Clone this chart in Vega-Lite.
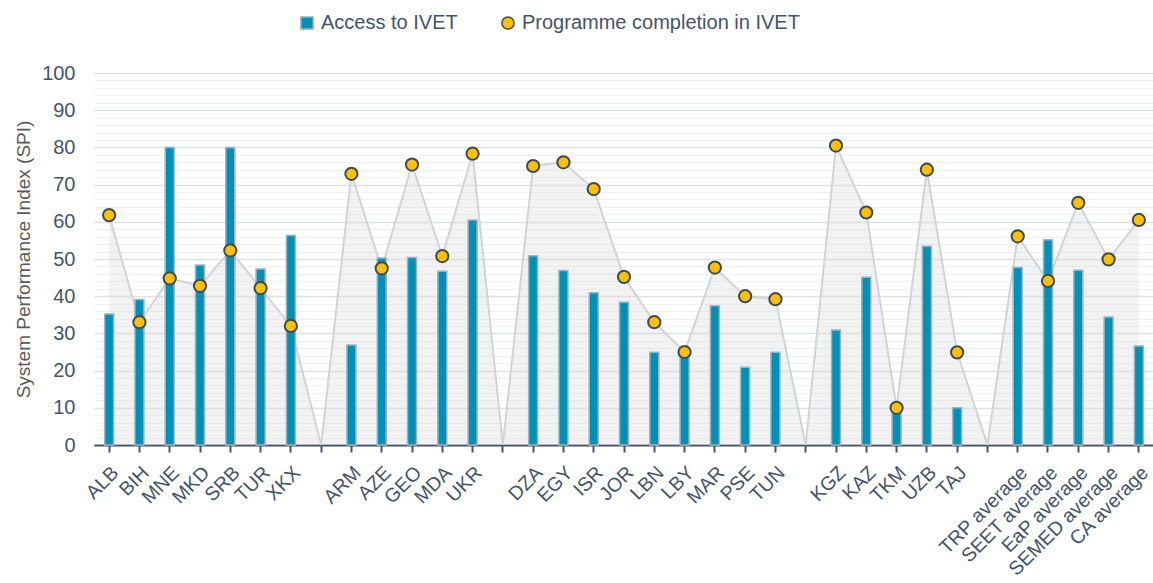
{
  "$schema": "https://vega.github.io/schema/vega-lite/v6.json",
  "width": 1060,
  "height": 372,
  "padding": {"left": 14, "top": 13, "right": 0, "bottom": 0},
  "background": "white",
  "config": {"font": "Liberation Sans", "view": {"stroke": null}},
  "data": {"values": [
    {"country": "ALB", "access": 35.2, "completion": 61.8},
    {"country": "BIH", "access": 39.1, "completion": 33.0},
    {"country": "MNE", "access": 80.0, "completion": 44.8},
    {"country": "MKD", "access": 48.4, "completion": 42.8},
    {"country": "SRB", "access": 80.0, "completion": 52.3},
    {"country": "TUR", "access": 47.3, "completion": 42.2},
    {"country": "XKX", "access": 56.3, "completion": 32.0},
    {"country": "_1", "access": null, "completion": 0},
    {"country": "ARM", "access": 26.9, "completion": 72.9},
    {"country": "AZE", "access": 50.3, "completion": 47.5},
    {"country": "GEO", "access": 50.4, "completion": 75.4},
    {"country": "MDA", "access": 46.7, "completion": 50.8},
    {"country": "UKR", "access": 60.5, "completion": 78.3},
    {"country": "_2", "access": null, "completion": 0},
    {"country": "DZA", "access": 50.9, "completion": 75.0},
    {"country": "EGY", "access": 46.9, "completion": 76.0},
    {"country": "ISR", "access": 40.9, "completion": 68.8},
    {"country": "JOR", "access": 38.4, "completion": 45.2},
    {"country": "LBN", "access": 24.9, "completion": 33.0},
    {"country": "LBY", "access": 24.5, "completion": 25.0},
    {"country": "MAR", "access": 37.4, "completion": 47.7},
    {"country": "PSE", "access": 20.9, "completion": 40.0},
    {"country": "TUN", "access": 24.9, "completion": 39.2},
    {"country": "_3", "access": null, "completion": 0},
    {"country": "KGZ", "access": 30.9, "completion": 80.5},
    {"country": "KAZ", "access": 45.1, "completion": 62.5},
    {"country": "TKM", "access": 10.0, "completion": 10.0},
    {"country": "UZB", "access": 53.4, "completion": 74.0},
    {"country": "TAJ", "access": 10.0, "completion": 24.9},
    {"country": "_4", "access": null, "completion": 0},
    {"country": "TRP average", "access": 47.7, "completion": 56.1},
    {"country": "SEET average", "access": 55.2, "completion": 44.1},
    {"country": "EaP average", "access": 47.0, "completion": 65.1},
    {"country": "SEMED average", "access": 34.4, "completion": 49.9},
    {"country": "CA average", "access": 26.6, "completion": 60.5}
  ]},
  "encoding": {
    "x": {
      "field": "country",
      "type": "nominal",
      "scale": {
        "domain": ["ALB","BIH","MNE","MKD","SRB","TUR","XKX","_1","ARM","AZE","GEO","MDA","UKR","_2","DZA","EGY","ISR","JOR","LBN","LBY","MAR","PSE","TUN","_3","KGZ","KAZ","TKM","UZB","TAJ","_4","TRP average","SEET average","EaP average","SEMED average","CA average"],
        "paddingInner": 0,
        "paddingOuter": 0
      },
      "axis": {
        "title": null,
        "labelAngle": -45,
        "labelFontSize": 19.5,
        "labelColor": "#44546a",
        "labelExpr": "indexof(datum.value,'_')==0 ? '' : datum.value",
        "tickSize": 7,
        "tickWidth": 2,
        "tickColor": "#44546a",
        "domainColor": "#44546a",
        "domainWidth": 2,
        "labelPadding": 11,
        "grid": false
      }
    }
  },
  "layer": [
    {
      "mark": {"type": "area", "color": "#d9d9d9", "opacity": 0.35, "line": {"color": "#d0d4d8", "strokeWidth": 2, "opacity": 1}},
      "encoding": {
        "y": {
          "field": "completion",
          "type": "quantitative",
          "scale": {"domain": [0, 100], "nice": false},
          "axis": {
            "title": "System Performance Index (SPI)",
            "values": [0,2,4,6,8,10,12,14,16,18,20,22,24,26,28,30,32,34,36,38,40,42,44,46,48,50,52,54,56,58,60,62,64,66,68,70,72,74,76,78,80,82,84,86,88,90,92,94,96,98,100],
            "tickCount": 60,
            "labelExpr": "datum.value % 10 == 0 ? datum.label : ''",
            "grid": true,
            "gridColor": {"condition": {"test": "datum.value % 10 == 0", "value": "#dde1e5"}, "value": "#eef0f2"},
            "gridWidth": {"condition": {"test": "datum.value % 10 == 0", "value": 1.5}, "value": 1},
            "domain": false,
            "ticks": false,
            "labelFontSize": 20,
            "labelColor": "#44546a",
            "labelPadding": 19,
            "titleFontSize": 19,
            "titleColor": "#595959",
            "titleFontWeight": "normal",
            "titlePadding": 8
          }
        }
      }
    },
    {
      "transform": [{"filter": "isValid(datum.access)"}],
      "mark": {"type": "bar", "size": 9, "stroke": "#a3b1bb", "strokeWidth": 1.5},
      "encoding": {
        "y": {"field": "access", "type": "quantitative"},
        "color": {
          "datum": "Access to IVET",
          "scale": {"domain": ["Access to IVET", "Programme completion in IVET"], "range": ["#0091b9", "#ffc000"]},
          "legend": {
            "title": null, "orient": "none", "legendX": 203, "legendY": -60,
            "direction": "horizontal", "labelFontSize": 20, "labelColor": "#44546a", "labelLimit": 500,
            "symbolSize": 150, "symbolStrokeWidth": 1.5, "labelOffset": 4, "columnPadding": 40
          }
        }
      }
    },
    {
      "transform": [{"filter": "isValid(datum.access)"}],
      "mark": {"type": "point", "filled": true, "size": 150, "strokeWidth": 2, "opacity": 1},
      "encoding": {
        "y": {"field": "completion", "type": "quantitative"},
        "color": {
          "datum": "Programme completion in IVET",
          "scale": {"domain": ["Access to IVET", "Programme completion in IVET"], "range": ["#0091b9", "#ffc000"]}
        },
        "shape": {
          "datum": "Programme completion in IVET",
          "scale": {"domain": ["Access to IVET", "Programme completion in IVET"], "range": ["square", "circle"]}
        },
        "stroke": {
          "datum": "Programme completion in IVET",
          "scale": {"domain": ["Access to IVET", "Programme completion in IVET"], "range": ["#a3b1bb", "#3c4b57"]}
        }
      }
    }
  ]
}
